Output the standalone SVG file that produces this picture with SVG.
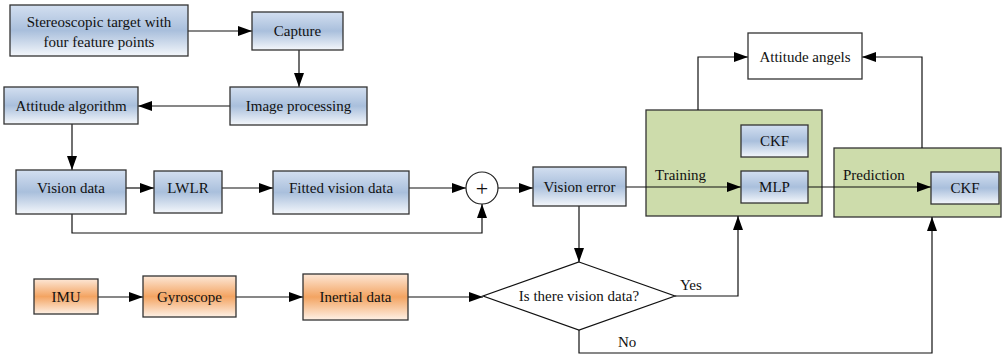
<svg xmlns="http://www.w3.org/2000/svg" width="1002" height="357" viewBox="0 0 1002 357">
  <style>
    text { font-family: "Times New Roman", "Liberation Serif", Tinos, "Noto Serif", FreeSerif, "DejaVu Serif", serif; font-size: 15px; fill: #111; }
    .c { text-anchor: middle; dominant-baseline: central; }
    .blue { fill: url(#gBlue); stroke: #333; stroke-width: 1.3; }
    .orange { fill: url(#gOrange); stroke: #333; stroke-width: 1.3; }
    .plain { fill: #fff; stroke: #333; stroke-width: 1.3; }
    .group { fill: #cddcab; stroke: #333; stroke-width: 1.3; }
    .wire { fill: none; stroke: #111; stroke-width: 1.2; }
    .arrow { marker-end: url(#head); }
    .plus { font-size: 22px; font-weight: 300; }
  </style>
  <defs>
    <linearGradient id="gBlue" x1="0" y1="0" x2="0" y2="1">
      <stop offset="0" stop-color="#d3dff0"/>
      <stop offset="0.5" stop-color="#a9bfdc"/>
      <stop offset="1" stop-color="#f4f7fb"/>
    </linearGradient>
    <linearGradient id="gOrange" x1="0" y1="0" x2="0" y2="1">
      <stop offset="0" stop-color="#fde7d6"/>
      <stop offset="0.5" stop-color="#f3a462"/>
      <stop offset="1" stop-color="#fef1e6"/>
    </linearGradient>
    <marker id="head" viewBox="0 0 14 10" refX="14" refY="5" markerWidth="14" markerHeight="10" markerUnits="userSpaceOnUse" orient="auto">
      <path d="M0,0 L14,5 L0,10 Z" fill="#000"/>
    </marker>
  </defs>

  <!-- processing stage containers -->
  <g id="training">
    <rect class="group" x="646" y="110" width="176" height="106"/>
    <text x="655" y="180">Training</text>
  </g>
  <g id="prediction">
    <rect class="group" x="834" y="148" width="167" height="69"/>
    <text x="843" y="180">Prediction</text>
  </g>

  <!-- connectors -->
  <g id="connectors">
    <path class="wire arrow" d="M188,31 H252"/>
    <path class="wire arrow" d="M299,50 V87"/>
    <path class="wire arrow" d="M230,106 H138"/>
    <path class="wire arrow" d="M72,124 V170"/>
    <path class="wire arrow" d="M126,188 H154"/>
    <path class="wire arrow" d="M222,188 H273"/>
    <path class="wire arrow" d="M409,188 H466"/>
    <path class="wire arrow" d="M72,214 V233 H482 V204"/>
    <path class="wire arrow" d="M498,188 H533"/>
    <path class="wire arrow" d="M626,187 H741"/>
    <path class="wire arrow" d="M808,187 H931"/>
    <path class="wire arrow" d="M698,110 V57 H748"/>
    <path class="wire arrow" d="M922,148 V57 H862"/>
    <path class="wire arrow" d="M579,206 V262"/>
    <path class="wire arrow" d="M98,297 H143"/>
    <path class="wire arrow" d="M236,297 H303"/>
    <path class="wire arrow" d="M408,297 H483"/>
    <path class="wire arrow" d="M675,296 H738 V216"/>
    <path class="wire arrow" d="M579,330 V353 H932 V217"/>
    <text x="680" y="290">Yes</text>
    <text x="618" y="347">No</text>
  </g>

  <!-- vision chain -->
  <g id="stereo-target">
    <rect class="blue" x="10" y="5" width="178" height="51"/>
    <text class="c" x="99" y="22">Stereoscopic target with</text>
    <text class="c" x="99" y="42">four feature points</text>
  </g>
  <g id="capture">
    <rect class="blue" x="252" y="12" width="91" height="38"/>
    <text class="c" x="297.5" y="31">Capture</text>
  </g>
  <g id="image-processing">
    <rect class="blue" x="230" y="87" width="137" height="38"/>
    <text class="c" x="298.5" y="106">Image processing</text>
  </g>
  <g id="attitude-algorithm">
    <rect class="blue" x="4" y="87" width="134" height="37"/>
    <text class="c" x="71" y="105.5">Attitude algorithm</text>
  </g>
  <g id="vision-data">
    <rect class="blue" x="16" y="170" width="110" height="44"/>
    <text class="c" x="71" y="188">Vision data</text>
  </g>
  <g id="lwlr">
    <rect class="blue" x="154" y="171" width="68" height="42"/>
    <text class="c" x="188" y="188">LWLR</text>
  </g>
  <g id="fitted-vision-data">
    <rect class="blue" x="273" y="171" width="136" height="43"/>
    <text class="c" x="341" y="188">Fitted vision data</text>
  </g>
  <g id="sum">
    <circle cx="482" cy="188" r="16" fill="#fff" stroke="#222" stroke-width="1.2"/>
    <text class="c plus" x="482" y="188">+</text>
  </g>
  <g id="vision-error">
    <rect class="blue" x="533" y="167" width="93" height="39"/>
    <text class="c" x="579.5" y="186.5">Vision error</text>
  </g>

  <!-- filter blocks -->
  <g id="ckf-training">
    <rect class="blue" x="741" y="125" width="67" height="32"/>
    <text class="c" x="774.5" y="141">CKF</text>
  </g>
  <g id="mlp">
    <rect class="blue" x="741" y="171" width="67" height="32"/>
    <text class="c" x="774.5" y="187">MLP</text>
  </g>
  <g id="ckf-prediction">
    <rect class="blue" x="931" y="172" width="68" height="32"/>
    <text class="c" x="965" y="188">CKF</text>
  </g>
  <g id="attitude-angels">
    <rect class="plain" x="748" y="33" width="114" height="46"/>
    <text class="c" x="805" y="57">Attitude angels</text>
  </g>

  <!-- inertial chain -->
  <g id="imu">
    <rect class="orange" x="34" y="279" width="64" height="35"/>
    <text class="c" x="66" y="296.5">IMU</text>
  </g>
  <g id="gyroscope">
    <rect class="orange" x="143" y="276" width="93" height="41"/>
    <text class="c" x="189.5" y="296.5">Gyroscope</text>
  </g>
  <g id="inertial-data">
    <rect class="orange" x="303" y="274" width="105" height="46"/>
    <text class="c" x="355.5" y="297">Inertial data</text>
  </g>

  <!-- decision -->
  <g id="decision">
    <path d="M579,262 L675,296 L579,330 L483,296 Z" fill="#fff" stroke="#111" stroke-width="1.2"/>
    <text class="c" x="579" y="296">Is there vision data?</text>
  </g>
</svg>
